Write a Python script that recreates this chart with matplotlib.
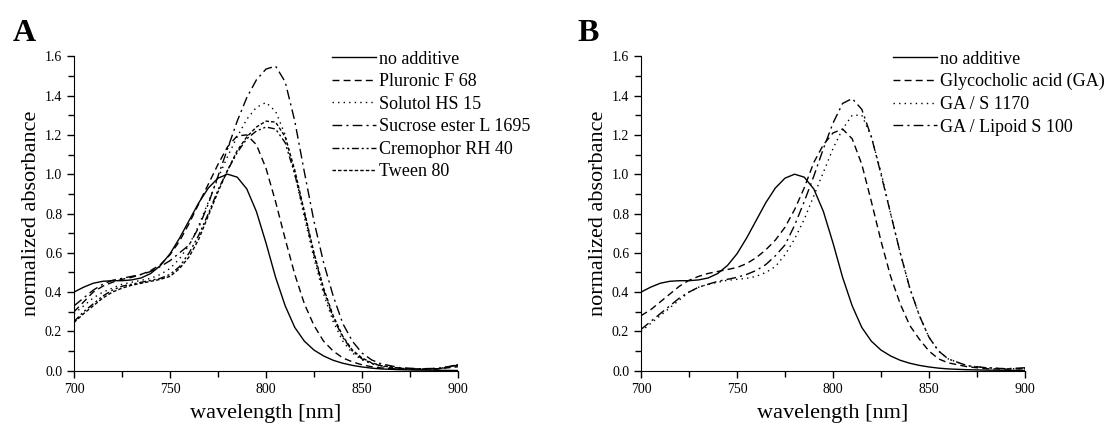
import numpy as np
import matplotlib
matplotlib.use('Agg')
import matplotlib.pyplot as plt
from matplotlib.ticker import MultipleLocator

plt.rcParams['font.family'] = ['Liberation Serif', 'DejaVu Serif']

# wavelength grid (nm)
wl = list(range(700, 861, 5)) + [870, 880, 890, 900]

# panel A
no_additive = [0.400, 0.425, 0.445, 0.455, 0.458, 0.458, 0.462, 0.472, 0.495, 0.535,
               0.595, 0.675, 0.765, 0.855, 0.930, 0.980, 1.000, 0.985, 0.925, 0.810,
               0.650, 0.475, 0.330, 0.220, 0.150, 0.105, 0.075, 0.053, 0.038, 0.027,
               0.019, 0.013, 0.009, 0.005, 0.003, 0.002, 0.001]
pluronic = [0.300, 0.350, 0.400, 0.430, 0.450, 0.465, 0.475, 0.490, 0.510, 0.540,
            0.590, 0.660, 0.750, 0.850, 0.950, 1.050, 1.140, 1.195, 1.200, 1.150,
            1.030, 0.860, 0.670, 0.490, 0.340, 0.230, 0.150, 0.100, 0.065, 0.045,
            0.030, 0.020, 0.014, 0.008, 0.006, 0.010, 0.020]
solutol = [0.290, 0.330, 0.370, 0.400, 0.420, 0.440, 0.450, 0.460, 0.470, 0.490,
           0.520, 0.570, 0.640, 0.740, 0.860, 0.980, 1.090, 1.190, 1.280, 1.340,
           1.365, 1.320, 1.200, 1.000, 0.780, 0.570, 0.390, 0.250, 0.150, 0.090,
           0.055, 0.035, 0.022, 0.010, 0.008, 0.012, 0.025]
sucrose = [0.330, 0.370, 0.410, 0.440, 0.460, 0.470, 0.480, 0.490, 0.505, 0.530,
           0.560, 0.600, 0.640, 0.730, 0.850, 0.990, 1.130, 1.270, 1.390, 1.480,
           1.535, 1.550, 1.470, 1.270, 1.010, 0.760, 0.550, 0.380, 0.240, 0.150,
           0.090, 0.055, 0.035, 0.015, 0.010, 0.012, 0.030]
cremophor = [0.250, 0.300, 0.340, 0.380, 0.410, 0.430, 0.440, 0.450, 0.460, 0.470,
             0.490, 0.530, 0.600, 0.690, 0.800, 0.920, 1.020, 1.110, 1.180, 1.220,
             1.240, 1.230, 1.160, 1.000, 0.800, 0.590, 0.410, 0.270, 0.170, 0.100,
             0.060, 0.038, 0.025, 0.012, 0.008, 0.010, 0.028]
tween = [0.245, 0.290, 0.330, 0.370, 0.400, 0.420, 0.435, 0.445, 0.455, 0.465,
         0.480, 0.520, 0.580, 0.670, 0.790, 0.910, 1.020, 1.120, 1.190, 1.240,
         1.270, 1.265, 1.190, 1.020, 0.810, 0.600, 0.420, 0.280, 0.175, 0.105,
         0.065, 0.040, 0.026, 0.012, 0.008, 0.010, 0.030]

# panel B
glycocholic = [0.280, 0.310, 0.350, 0.390, 0.430, 0.460, 0.480, 0.495, 0.505, 0.515,
               0.525, 0.545, 0.575, 0.615, 0.665, 0.730, 0.820, 0.930, 1.060, 1.150,
               1.210, 1.230, 1.180, 1.050, 0.860, 0.660, 0.480, 0.340, 0.230, 0.160,
               0.100, 0.060, 0.040, 0.020, 0.010, 0.008, 0.010]
ga_s1170 = [0.200, 0.240, 0.280, 0.320, 0.360, 0.400, 0.425, 0.440, 0.450, 0.460,
            0.465, 0.470, 0.480, 0.500, 0.530, 0.590, 0.670, 0.770, 0.890, 1.010,
            1.130, 1.230, 1.300, 1.300, 1.190, 1.010, 0.800, 0.600, 0.420, 0.280,
            0.170, 0.100, 0.060, 0.025, 0.015, 0.010, 0.010]
ga_lipoid = [0.210, 0.250, 0.290, 0.330, 0.370, 0.400, 0.425, 0.440, 0.455, 0.465,
             0.475, 0.490, 0.510, 0.540, 0.585, 0.640, 0.740, 0.860, 0.990, 1.130,
             1.260, 1.360, 1.385, 1.330, 1.190, 1.000, 0.800, 0.600, 0.420, 0.280,
             0.170, 0.100, 0.060, 0.025, 0.015, 0.010, 0.015]

labels_a = ['no additive', 'Pluronic F 68', 'Solutol HS 15', 'Sucrose ester L 1695',
            'Cremophor RH 40', 'Tween 80']
labels_b = ['no additive', 'Glycocholic acid (GA)', 'GA / S 1170', 'GA / Lipoid S 100']

ls_a = ['-', (0, (5, 3)), (0, (1, 3)), (0, (7, 3, 1.5, 3)), (0, (5, 2, 1.5, 2, 1.5, 2)), (0, (2.5, 1.5))]
ls_b = ['-', (0, (5, 3)), (0, (1, 3)), (0, (7, 3, 1.5, 3))]

fig = plt.figure(figsize=(11.06, 4.29), dpi=100)
ax1 = fig.add_axes([74/1106, 58.3/429, 384/1106, 314.4/429])
ax2 = fig.add_axes([641/1106, 58.3/429, 384/1106, 314.4/429])


def style(ax):
    ax.set_xlim(700, 900)
    ax.set_ylim(0, 1.6)
    ax.xaxis.set_major_locator(MultipleLocator(50))
    ax.xaxis.set_minor_locator(MultipleLocator(25))
    ax.yaxis.set_major_locator(MultipleLocator(0.2))
    ax.yaxis.set_minor_locator(MultipleLocator(0.1))
    ax.yaxis.set_major_formatter(matplotlib.ticker.FormatStrFormatter('%.1f'))
    for s in ['top', 'right']:
        ax.spines[s].set_visible(False)
    ax.tick_params(which='both', direction='out', labelsize=10, width=1)
    ax.tick_params(which='major', length=5)
    ax.tick_params(which='minor', length=4)
    ax.set_xlabel('wavelength [nm]', fontsize=16, labelpad=6)
    ax.set_ylabel('normalized absorbance', fontsize=16, labelpad=3)


for y, ls, lab in zip([no_additive, pluronic, solutol, sucrose, cremophor, tween], ls_a, labels_a):
    ax1.plot(wl, y, color='black', lw=1.0, linestyle=ls, label=lab)
for y, ls, lab in zip([no_additive, glycocholic, ga_s1170, ga_lipoid], ls_b, labels_b):
    ax2.plot(wl, y, color='black', lw=1.0, linestyle=ls, label=lab)

style(ax1)
style(ax2)

for ax, xs in [(ax1, 332), (ax2, 893)]:
    ax.legend(loc='upper left', bbox_to_anchor=(xs/1106, 1 - 50.5/429),
              bbox_transform=fig.transFigure, frameon=False, fontsize=13,
              handlelength=2.45, handletextpad=0.15, labelspacing=0.31, borderpad=0,
              borderaxespad=0)

fig.text(13/1106, 1 - 41/429, 'A', fontsize=23, fontweight='bold')
fig.text(577/1106, 1 - 41/429, 'B', fontsize=23, fontweight='bold')

fig.savefig('out.png', dpi=100)
